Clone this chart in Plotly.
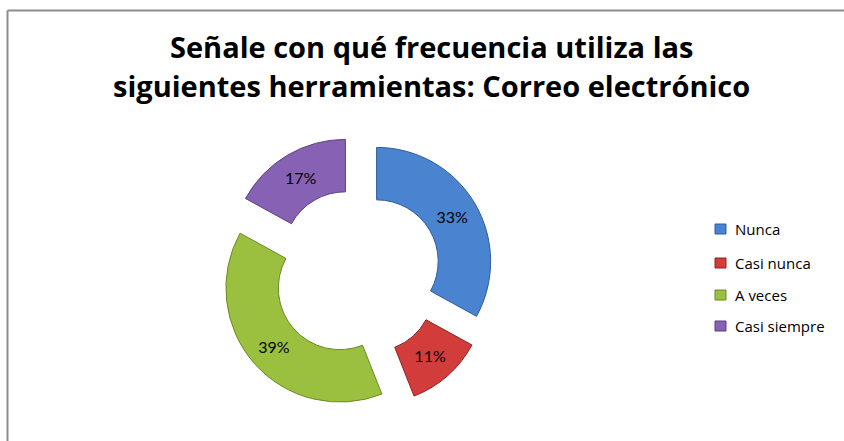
import plotly.graph_objects as go

# Survey answers: how often e-mail is used
categories = ["Nunca", "Casi nunca", "A veces", "Casi siempre"]
percentages = [33, 11, 39, 17]
colors = ["#4A84D0", "#D23C3A", "#9BC040", "#8762B4"]
edge_colors = ["#2E5C99", "#8E2321", "#6B8A25", "#5B3F82"]

title_lines = ["Señale con qué frecuencia utiliza las",
               "siguientes herramientas: Correo electrónico"]

W, H = 844, 441

# Doughnut geometry (pixels)
cx, cy = 357, 273
pull = 0.2
outer_r = 114
box = 2 * outer_r * (1 + pull)

fig = go.Figure(
    go.Pie(
        labels=categories,
        values=percentages,
        hole=0.54,
        sort=False,
        direction="clockwise",
        rotation=0,
        pull=[pull] * len(categories),
        marker=dict(colors=colors, line=dict(color=edge_colors, width=1)),
        texttemplate="%{value}%",
        textposition="inside",
        insidetextorientation="horizontal",
        textfont=dict(family="Lato, sans-serif", size=16, color="#000000"),
        hoverinfo="label+percent",
        showlegend=False,
        domain=dict(
            x=[(cx - box / 2) / W, (cx + box / 2) / W],
            y=[(H - cy - box / 2) / H, (H - cy + box / 2) / H],
        ),
    )
)

# Frame of the chart area (top and left edges)
shapes = [
    dict(type="line", xref="paper", yref="paper",
         x0=7.5 / W, x1=1.0, y0=1 - 10.5 / H, y1=1 - 10.5 / H,
         line=dict(color="#8C8C8C", width=2)),
    dict(type="line", xref="paper", yref="paper",
         x0=7.5 / W, x1=7.5 / W, y0=1 - 10.5 / H, y1=0,
         line=dict(color="#8C8C8C", width=2)),
]

annotations = []

# Two-line bold title
for line, ty in zip(title_lines, [47, 85]):
    annotations.append(dict(
        xref="paper", yref="paper", x=432 / W, y=1 - ty / H,
        xanchor="center", yanchor="middle", showarrow=False,
        text="<b>" + line + "</b>",
        font=dict(family="Open Sans, sans-serif", size=29, color="#000000"),
    ))

# Legend: colour squares with labels
legend_y = [229, 263, 295, 326]
for name, col, edge, ly in zip(categories, colors, edge_colors, legend_y):
    shapes.append(dict(
        type="rect", xref="paper", yref="paper",
        x0=715 / W, x1=726 / W, y0=1 - (ly + 5) / H, y1=1 - (ly - 5) / H,
        fillcolor=col, line=dict(color=edge, width=1),
    ))
    annotations.append(dict(
        xref="paper", yref="paper", x=733 / W, y=1 - ly / H,
        xanchor="left", yanchor="middle", showarrow=False,
        text=name, font=dict(family="Open Sans, sans-serif", size=15, color="#000000"),
    ))

fig.update_layout(
    width=W, height=H,
    margin=dict(l=0, r=0, t=0, b=0),
    paper_bgcolor="#FFFFFF",
    shapes=shapes,
    annotations=annotations,
)

fig.write_html("out.html")
